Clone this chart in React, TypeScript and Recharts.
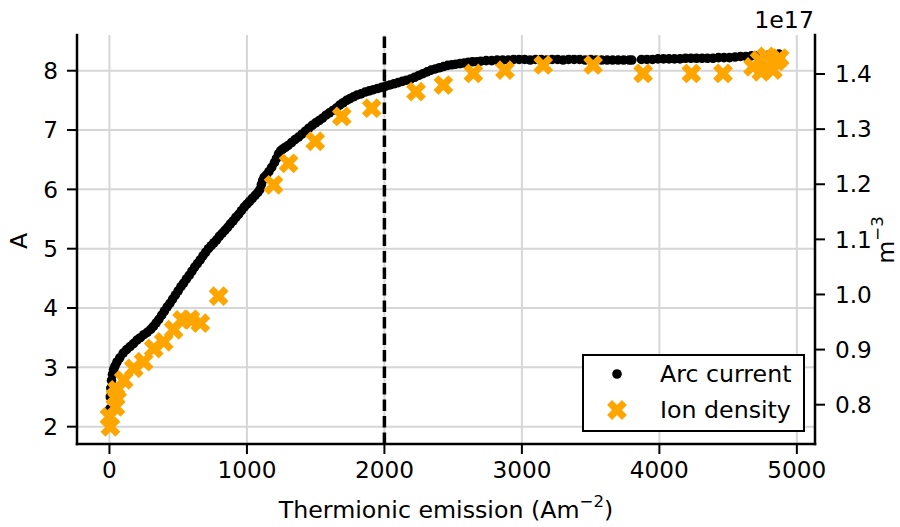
import React from 'react';
import {
  ComposedChart,
  Scatter,
  XAxis,
  YAxis,
  CartesianGrid,
  ReferenceLine,
} from 'recharts';

// arc current (A) vs thermionic emission (A m^-2)
const arcCurrent: [number, number][] = [
  [0, 2.05], [3, 2.3], [6, 2.5], [10, 2.65], [15, 2.78], [22, 2.88], [30, 2.96], [40, 3.02],
  [55, 3.09], [75, 3.16], [100, 3.24], [125, 3.3], [150, 3.35], [175, 3.4], [200, 3.46],
  [225, 3.5], [250, 3.55], [275, 3.59], [300, 3.64], [320, 3.69], [340, 3.75], [360, 3.81],
  [380, 3.88], [400, 3.95], [420, 4.02], [440, 4.08], [460, 4.15], [480, 4.22], [500, 4.29],
  [520, 4.36], [540, 4.42], [560, 4.49], [580, 4.55], [600, 4.62], [620, 4.69], [640, 4.75],
  [660, 4.81], [680, 4.88], [700, 4.94], [720, 5.0], [740, 5.05], [760, 5.1], [780, 5.15],
  [800, 5.21], [820, 5.26], [840, 5.31], [860, 5.36], [880, 5.42], [900, 5.47], [920, 5.53],
  [940, 5.58], [960, 5.64], [980, 5.7], [1000, 5.75], [1020, 5.8], [1040, 5.85], [1060, 5.9],
  [1080, 5.95], [1095, 6.0], [1105, 6.08], [1115, 6.15], [1125, 6.2], [1140, 6.24],
  [1160, 6.3], [1180, 6.37], [1200, 6.45], [1215, 6.52], [1230, 6.6], [1245, 6.65],
  [1260, 6.68], [1280, 6.71], [1300, 6.74], [1325, 6.79], [1350, 6.84], [1375, 6.88],
  [1400, 6.93], [1425, 6.98], [1450, 7.03], [1475, 7.08], [1500, 7.12], [1525, 7.16],
  [1550, 7.2], [1575, 7.25], [1600, 7.29], [1625, 7.33], [1650, 7.37], [1675, 7.42],
  [1700, 7.46], [1725, 7.5], [1750, 7.53], [1775, 7.56], [1800, 7.59], [1830, 7.61],
  [1860, 7.64], [1890, 7.66], [1920, 7.68], [1950, 7.7], [1980, 7.72], [2010, 7.74],
  [2040, 7.76], [2070, 7.78], [2100, 7.8], [2130, 7.82], [2160, 7.84], [2190, 7.86],
  [2220, 7.89], [2250, 7.92], [2280, 7.95], [2310, 7.98], [2340, 8.01], [2370, 8.03],
  [2400, 8.05], [2430, 8.07], [2460, 8.09], [2490, 8.1], [2520, 8.11], [2550, 8.12],
  [2580, 8.13], [2610, 8.14], [2640, 8.15], [2670, 8.15], [2700, 8.16], [2740, 8.17],
  [2780, 8.17], [2820, 8.18], [2860, 8.18], [2900, 8.18], [2940, 8.19], [2980, 8.19],
  [3020, 8.19], [3060, 8.18], [3100, 8.19], [3140, 8.19], [3180, 8.18], [3220, 8.19],
  [3260, 8.19], [3300, 8.18], [3340, 8.19], [3380, 8.19], [3420, 8.19], [3460, 8.18],
  [3500, 8.19], [3540, 8.18], [3580, 8.18], [3620, 8.18], [3660, 8.18], [3700, 8.18],
  [3740, 8.18], [3780, 8.18], [3800, 8.18], [3870, 8.19], [3910, 8.19], [3950, 8.19],
  [3990, 8.2], [4030, 8.2], [4070, 8.2], [4110, 8.2], [4150, 8.2], [4190, 8.21], [4230, 8.21],
  [4270, 8.21], [4310, 8.21], [4350, 8.21], [4390, 8.21], [4430, 8.22], [4470, 8.22],
  [4510, 8.22], [4550, 8.23], [4590, 8.24], [4630, 8.24], [4670, 8.25], [4710, 8.25],
  [4750, 8.26], [4790, 8.26], [4830, 8.27], [4870, 8.28],
];

// ion density (1e17 m^-3)
const ionDensity: [number, number][] = [
  [7, 0.76], [0, 0.778], [44, 0.796], [44, 0.8145], [56, 0.827], [104, 0.845], [177, 0.866],
  [249, 0.878], [322, 0.902], [395, 0.914], [467, 0.936], [528, 0.954], [589, 0.955],
  [661, 0.948], [794, 0.997], [1194, 1.199], [1303, 1.238], [1497, 1.278], [1690, 1.323],
  [1908, 1.338], [2230, 1.368], [2429, 1.38], [2647, 1.401], [2877, 1.407], [3155, 1.4165],
  [3518, 1.4165], [3882, 1.401], [4233, 1.401], [4463, 1.401], [4681, 1.413], [4729, 1.425],
  [4741, 1.404], [4778, 1.432], [4778, 1.413], [4826, 1.407], [4850, 1.423], [4875, 1.429],
];

const xTicks = [0, 1000, 2000, 3000, 4000, 5000];
const leftTicks = [2, 3, 4, 5, 6, 7, 8];
const rightTicks = [0.8, 0.9, 1.0, 1.1, 1.2, 1.3, 1.4];

const arcData = arcCurrent.map(([x, y]) => ({ x, y }));
const ionData = ionDensity.map(([x, y]) => ({ x, y }));

const FONT = 'DejaVu Sans';
const ORANGE = '#FFA500';
const FS = 23.7;
const tickStyle = { fill: '#000', fontSize: 23.2, fontFamily: FONT };

// matplotlib style filled "X" marker
const U = 3.5;
const PLUS = [[-1, -3], [1, -3], [1, -1], [3, -1], [3, 1], [1, 1], [1, 3], [-1, 3], [-1, 1], [-3, 1], [-3, -1], [-1, -1]];
const xPoints = (cx: number, cy: number) =>
  PLUS.map(([a, b]) => `${cx + ((a - b) / Math.SQRT2) * U},${cy + ((a + b) / Math.SQRT2) * U}`).join(' ');

const R = 4.8;
const Dot = (props: any) => <circle cx={props.cx} cy={props.cy} r={R} fill="#000" />;
const Cross = (props: any) => <polygon points={xPoints(props.cx, props.cy)} fill={ORANGE} />;

const spine = { stroke: '#000', strokeWidth: 2.5, strokeLinecap: 'square' as const };
const tickLine = { stroke: '#000', strokeWidth: 2 };

export default function App() {
  return (
    <div style={{ position: 'absolute', left: 0, top: 0, width: 900, height: 527, fontFamily: FONT, background: '#fff' }}>
      <ComposedChart width={900} height={527} margin={{ top: 35, right: 25, bottom: 33, left: 17 }}>
        <CartesianGrid yAxisId="left" stroke="#d6d6d6" strokeWidth={2} horizontalValues={leftTicks} verticalValues={xTicks} />
        <XAxis
          dataKey="x"
          type="number"
          domain={[-236, 5132]}
          ticks={xTicks}
          allowDataOverflow
          height={50}
          tickSize={10}
          tickMargin={8}
          tick={tickStyle}
          axisLine={spine}
          tickLine={tickLine}
        />
        <XAxis
          xAxisId="top"
          orientation="top"
          type="number"
          domain={[-236, 5132]}
          allowDataOverflow
          height={0}
          tick={false}
          tickLine={false}
          axisLine={spine}
        />
        <YAxis
          yAxisId="left"
          dataKey="y"
          type="number"
          domain={[1.708, 8.602]}
          ticks={leftTicks}
          allowDataOverflow
          width={60}
          tickSize={10}
          tickMargin={9}
          tick={tickStyle}
          axisLine={spine}
          tickLine={tickLine}
        />
        <YAxis
          yAxisId="right"
          orientation="right"
          dataKey="y"
          type="number"
          domain={[0.7287, 1.4708]}
          ticks={rightTicks}
          allowDataOverflow
          width={60}
          tickSize={10}
          tickMargin={10}
          tick={tickStyle}
          tickFormatter={(v: number) => v.toFixed(1)}
          axisLine={spine}
          tickLine={tickLine}
        />
        <ReferenceLine x={2000} yAxisId="left" stroke="#000" strokeWidth={3.5} strokeDasharray="11.5 5" />
        <Scatter yAxisId="left" data={arcData} shape={Dot} isAnimationActive={false} />
        <Scatter yAxisId="right" data={ionData} shape={Cross} isAnimationActive={false} />
      </ComposedChart>

      <svg width={900} height={527} style={{ position: 'absolute', left: 0, top: 0, pointerEvents: 'none' }}>
        <text x={446} y={518} textAnchor="middle" fontSize={FS} fontFamily={FONT} fill="#000">
          Thermionic emission (Am<tspan fontSize={16.6} dy={-11}>−2</tspan><tspan dy={11}>)</tspan>
        </text>
        <text transform="translate(27,241) rotate(-90)" textAnchor="middle" fontSize={FS} fontFamily={FONT} fill="#000">
          A
        </text>
        <text transform="translate(894,240) rotate(-90)" textAnchor="middle" fontSize={FS} fontFamily={FONT} fill="#000">
          m<tspan fontSize={16.6} dy={-11}>−3</tspan>
        </text>
        <text x={814} y={28} textAnchor="end" fontSize={FS} fontFamily={FONT} fill="#000">
          1e17
        </text>
      </svg>

      <div
        style={{
          position: 'absolute',
          left: 582,
          top: 354,
          width: 223,
          height: 78,
          boxSizing: 'border-box',
          border: '2px solid #000',
          background: '#fff',
          fontSize: FS,
          fontFamily: FONT,
        }}
      >
        <svg width={60} height={74} style={{ position: 'absolute', left: 0, top: 0 }}>
          <circle cx={33} cy={18} r={R} fill="#000" />
          <polygon points={xPoints(33, 54)} fill={ORANGE} />
        </svg>
        <div style={{ position: 'absolute', left: 76, top: 4, lineHeight: '28px', whiteSpace: 'nowrap' }}>Arc current</div>
        <div style={{ position: 'absolute', left: 76, top: 40, lineHeight: '28px', whiteSpace: 'nowrap' }}>Ion density</div>
      </div>
    </div>
  );
}
